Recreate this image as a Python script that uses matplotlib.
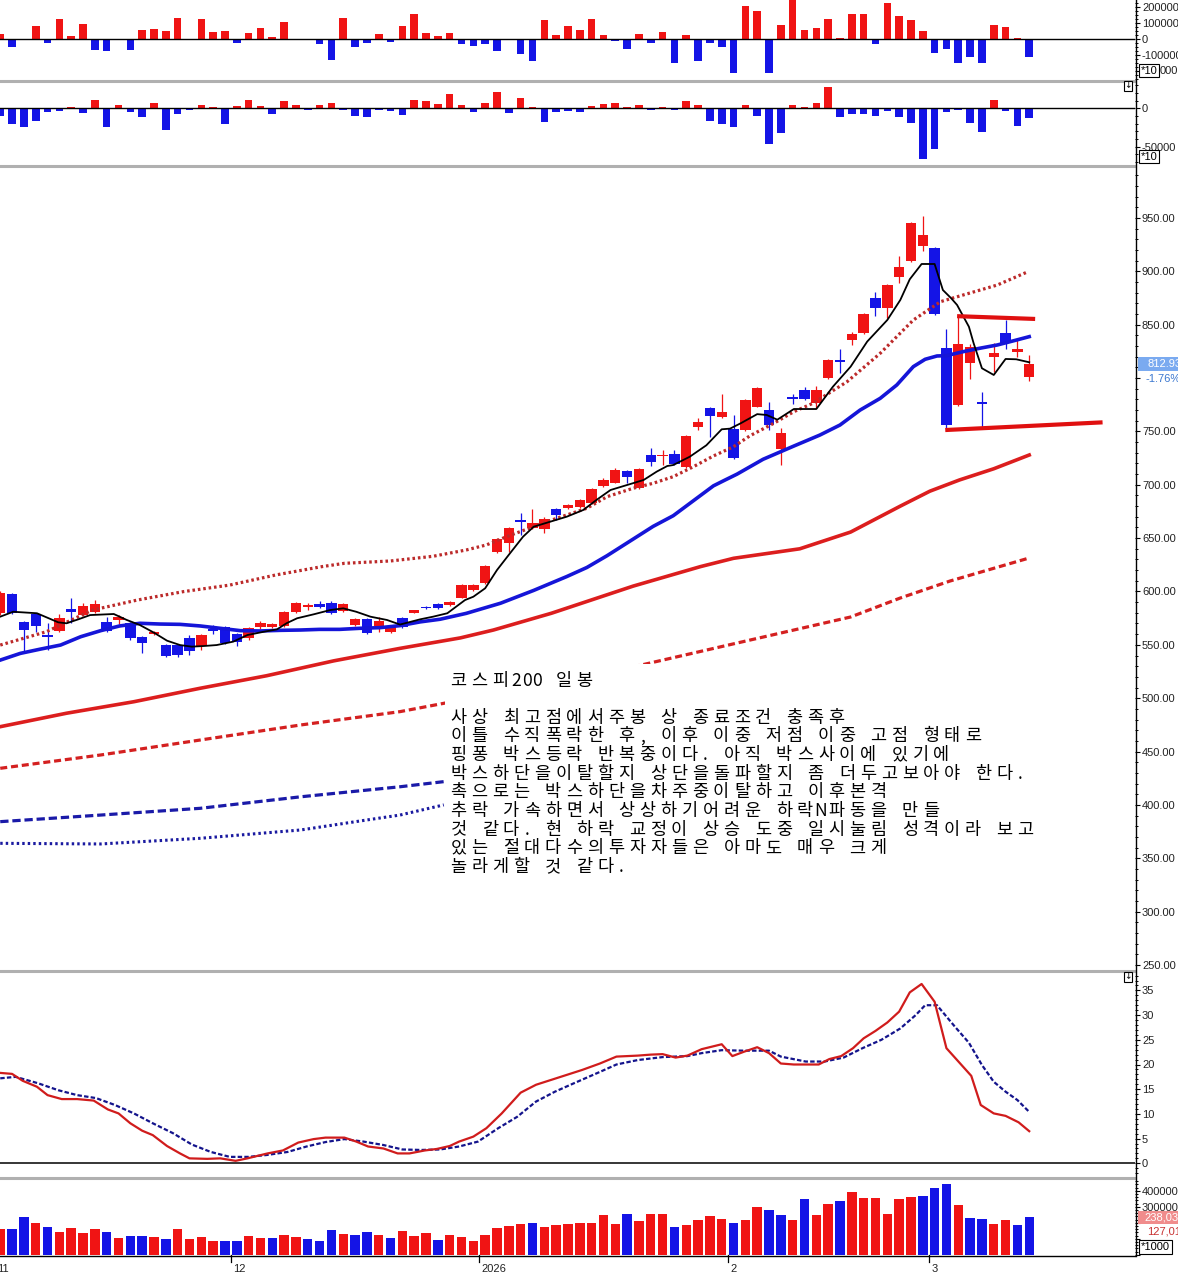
import numpy as np
import matplotlib
matplotlib.use("Agg")
import matplotlib.pyplot as plt
from matplotlib.patches import Rectangle
from matplotlib.lines import Line2D
from matplotlib.ticker import MultipleLocator, FixedLocator, FuncFormatter
from matplotlib.transforms import blended_transform_factory

plt.rcParams['font.family'] = ['Liberation Sans', 'DejaVu Sans']

W, H, DPI = 1178, 1275, 100
RIGHT = 1135.0      # x of the price scale (px)
STEP = 11.83        # px per trading day
RED, BLUE = '#f01414', '#1414e6'

# ---- daily candles, KOSPI200 (bar 0 = 2025-11-03) ----
opens = [580.0, 597.6, 571.1, 578.6, 558.4, 563.3, 583.3, 578.0, 580.5, 571.1,
         573.3, 570.2, 557.0, 560.6, 549.8, 549.5, 556.1, 548.9, 563.5, 566.4,
         560.2, 556.1, 566.4, 566.4, 567.7, 581.0, 585.5, 588.3, 589.5, 581.7,
         569.0, 574.2, 567.7, 562.3, 574.9, 580.1, 585.7, 588.0, 587.3, 594.2,
         601.4, 607.7, 637.3, 645.1, 665.8, 659.8, 658.3, 677.0, 678.0, 678.9,
         682.6, 698.9, 702.0, 712.9, 696.7, 727.9, 726.7, 728.8, 716.9, 753.9,
         771.7, 763.8, 752.0, 751.3, 773.2, 770.0, 733.5, 781.3, 788.8, 776.3,
         799.8, 815.6, 835.7, 841.9, 874.8, 866.0, 895.0, 910.0, 923.9, 921.6,
         827.9, 774.8, 814.4, 776.6, 820.0, 842.0, 824.7, 800.7]
highs = [600.0, 599.0, 572.0, 579.0, 570.2, 578.9, 593.6, 588.9, 592.0, 576.4,
         577.5, 571.0, 558.0, 563.0, 551.0, 551.0, 559.2, 560.0, 568.6, 567.5,
         561.0, 566.5, 572.0, 570.5, 581.5, 590.0, 588.9, 591.5, 591.5, 589.0,
         575.0, 575.0, 576.4, 568.0, 576.0, 583.0, 586.5, 589.0, 591.0, 607.0,
         607.0, 625.0, 650.0, 660.0, 673.8, 677.0, 670.0, 678.0, 682.0, 686.5,
         697.0, 706.5, 716.0, 714.0, 715.5, 734.0, 732.6, 733.0, 746.5, 763.0,
         773.0, 785.0, 765.5, 780.0, 791.5, 778.0, 753.0, 785.5, 792.0, 792.5,
         818.0, 827.0, 843.5, 861.0, 880.5, 888.0, 914.0, 946.0, 951.9, 923.0,
         845.7, 859.0, 832.0, 787.2, 833.2, 854.4, 836.3, 821.6]
lows = [578.0, 579.0, 543.6, 562.0, 545.2, 562.0, 570.2, 577.0, 579.5, 562.0,
        569.5, 555.0, 542.0, 559.0, 538.6, 539.0, 540.5, 545.2, 560.2, 551.0,
        548.9, 555.0, 565.0, 565.5, 567.0, 580.0, 583.0, 584.5, 579.0, 581.0,
        568.0, 560.0, 562.3, 561.5, 566.0, 579.5, 583.5, 584.0, 586.5, 593.5,
        600.5, 607.0, 636.5, 637.3, 652.9, 659.0, 654.5, 667.0, 677.0, 678.0,
        682.0, 697.5, 701.5, 701.4, 696.0, 718.0, 718.5, 719.0, 716.0, 751.0,
        745.1, 763.0, 724.0, 750.5, 772.5, 751.0, 718.5, 776.0, 779.5, 772.0,
        799.0, 804.5, 831.0, 841.0, 858.0, 856.0, 889.0, 909.0, 919.4, 859.0,
        752.9, 774.0, 799.0, 753.9, 806.0, 827.0, 820.0, 797.5]
closes = [598.6, 580.1, 563.9, 567.7, 557.7, 574.9, 581.0, 586.4, 588.0, 563.0,
          576.4, 556.1, 552.0, 561.2, 539.8, 540.3, 544.2, 559.2, 563.0, 552.0,
          553.0, 565.5, 570.8, 569.5, 580.5, 588.9, 586.0, 585.2, 579.6, 588.3,
          574.2, 560.8, 572.3, 567.0, 567.0, 582.4, 584.2, 584.8, 590.4, 606.1,
          606.1, 623.9, 649.0, 659.2, 665.4, 664.4, 667.6, 671.7, 681.0, 685.7,
          696.0, 704.5, 713.8, 707.6, 714.8, 721.6, 727.2, 719.5, 745.7, 759.1,
          764.7, 768.5, 724.8, 779.4, 790.4, 756.0, 748.8, 780.7, 780.4, 788.8,
          816.9, 815.0, 841.3, 860.0, 865.4, 887.2, 904.4, 945.0, 934.0, 860.0,
          756.0, 831.9, 829.4, 776.0, 823.2, 832.6, 827.5, 812.9]

# net buying (two investor groups) and volume
net_a = [33000, -46000, 0, 83000, -21000, 127000, 21000, 96000, -67000, -73000,
         0, -67000, 58000, 65000, 52000, 133000, 0, 127000, 46000, 52000,
         -21000, 40000, 71000, 15000, 108000, 0, 0, -27000, -129000, 133000,
         -46000, -21000, 33000, -15000, 83000, 158000, 40000, 21000, 40000, -27000,
         -40000, -27000, -71000, 0, -94000, -133000, 121000, 29000, 83000, 58000,
         127000, 29000, -8000, -58000, 33000, -21000, 46000, -146000, 29000, -133000,
         -21000, -46000, -213000, 208000, 177000, -208000, 90000, 260000, 58000, 71000,
         127000, 6000, 158000, 158000, -31000, 227000, 146000, 121000, 52000, -88000,
         -63000, -150000, -108000, -150000, 90000, 77000, 8000, -113000]
net_b = [-9600, -20900, -23900, -16100, -4300, -3000, 1700, -5700, 10900, -23900,
         4300, -4300, -10900, 7000, -27800, -7400, -1700, 4300, 1700, -20000,
         3000, 10900, 3000, -7000, 9600, 4300, -1700, 4300, 7000, -1700,
         -9600, -11300, -1700, -3000, -8300, 10900, 9600, 5700, 18700, 4300,
         -4300, 7000, 21300, -5700, 13500, 1700, -17400, -4300, -3000, -4300,
         3000, 5700, 7000, 1700, 4300, -1700, 1700, -1700, 9600, 4300,
         -16100, -20900, -23900, 4300, -9600, -47000, -32600, 4300, 1700, 7000,
         27800, -10900, -7800, -7000, -9600, -3000, -10900, -18700, -66500, -52600,
         -4300, -1700, -18700, -31300, 10900, -3000, -22600, -13000]
volume = [158700, 158700, 233700, 196200, 171200, 140000, 165000, 133700, 158700, 140000,
          102500, 115000, 115000, 108700, 96200, 158700, 96200, 108700, 83700, 83700,
          83700, 115000, 102500, 102500, 121200, 108700, 96200, 83700, 152500, 127500,
          121200, 140000, 121200, 102500, 146200, 115000, 133700, 90000, 121200, 108700,
          83700, 121200, 165000, 177500, 190000, 196200, 171200, 183700, 190000, 196200,
          196200, 248100, 190000, 254400, 208700, 254400, 254400, 173100, 185600, 216900,
          241900, 223100, 198100, 216900, 298100, 279400, 248100, 216900, 348100, 248100,
          316900, 335600, 391900, 354400, 354400, 254400, 348100, 360600, 366900, 416900,
          441900, 310600, 229400, 223100, 191900, 216900, 185600, 238030]
vol_dir = ("rbbrbrrrrb" "rbbrbrrrrb" "brrbrrbbbr" "bbrbrrrbrr" "rrrrrbrrrr"
           "rrrbrrrbrr" "rrbrrbbrbr" "rbrrrrrrbb" "brbbrrbb")

# moving averages / envelopes (bar index, price)
ma5_x = [0, 1.1, 3.1, 4.1, 4.9, 5.6, 6.6, 7.6, 9.6, 10.7, 11.8, 13, 14.1, 15.2, 16.2,
         17.2, 18.3, 19.7, 20.9, 22.3, 23.4, 24.2, 25.1, 26.5, 27.9, 29, 30.1, 31.3,
         32.7, 33.8, 35.5, 36.6, 37.8, 39.3, 40, 41, 42, 43.1, 44.2, 45.1, 46.5, 47.9,
         49.3, 50.4, 51.6, 53, 54.4, 55.5, 56.4, 56.9, 58.3, 59.7, 61, 61.7, 62.6, 64,
         64.8, 65.7, 67.1, 69, 70.4, 71.9, 73.3, 75, 76.1, 76.9, 77.9, 79, 79.7, 80.4,
         80.9, 81.9, 82.3, 83, 84, 85, 85.9, 87]
ma5_y = [576.4, 581, 579.6, 574.9, 571.1, 570.2, 573.9, 577.9, 578.9, 573.3, 568.6,
         561.4, 553.9, 549.8, 548.3, 548.9, 549.8, 553, 559.2, 562.3, 564.5, 570.2,
         574.9, 578.6, 582.6, 584.2, 581, 576.4, 573.3, 569, 573.9, 576.4, 579.6, 592,
         595.1, 603, 620.1, 635.8, 651.3, 660.7, 665.4, 670.1, 676.4, 685.7, 695.1,
         699.8, 704.5, 712.3, 717.6, 718.5, 726.3, 737, 752, 752.6, 757.6, 766.2,
         765.4, 761, 771, 771, 791.9, 810.7, 834.2, 854.4, 873.2, 892.6, 906.9, 906.9,
         882.5, 874.8, 868.5, 848.1, 832.6, 809.2, 802.9, 817.9, 817.6, 814.8]
ma20_x = [0, 1.7, 3.4, 5.1, 6.8, 8.5, 10.1, 11.8, 13.5, 15.2, 16.9, 18.6, 20.3, 22,
          23.7, 25.4, 27, 28.7, 30.4, 32.1, 33.8, 35.5, 37.2, 39.4, 42.3, 45.1, 47.9,
          49.6, 51.3, 53.5, 55.2, 56.9, 58.6, 60.3, 61.2, 62.3, 64.5, 67.1, 69.3, 71,
          72.7, 74.4, 75.8, 77.2, 78.2, 79.2, 80, 81.4, 82.8, 84.3, 85.7, 87]
ma20_y = [535.7, 542, 546, 549.8, 557.6, 563.3, 567.7, 570.2, 569.5, 569.2, 567.7,
          565.5, 563.3, 563, 563.6, 563.9, 564.5, 564.5, 565.5, 566.1, 568, 571.5, 574,
          579.5, 589, 601, 614, 622.5, 633.5, 649, 661, 671, 685, 699, 704, 710, 723.9,
          736.3, 746.6, 756, 770, 781, 793.5, 810.7, 817.6, 820.7, 821, 824.7, 827.9,
          831, 835, 838.8]
upper_x = [0, 3.9, 7.8, 11.6, 15.5, 19.4, 23.3, 27.2, 29.1, 33, 36.6, 39.4, 41.1, 42.8,
           44.5, 46.2, 47.9, 49.6, 51.3, 53.5, 55.2, 56.9, 58.6, 60.3, 62, 63.4, 65.4,
           67.1, 68.7, 71.6, 74.4, 77.2, 79.5, 81.4, 84.3, 86.9]
upper_y = [549.8, 562.3, 582.6, 592, 599.9, 606, 615.5, 623.3, 626.4, 628.6, 633,
           638.9, 643.6, 651.3, 658.3, 665.4, 671.7, 678, 688.8, 696.7, 701.4, 707.6,
           716.9, 727, 735.7, 746, 757.6, 768.5, 776.3, 796.6, 823.2, 854.4, 871.6,
           877.8, 887.2, 899.7]
ma60_x = [0, 5.6, 11.3, 16.9, 22.5, 28.2, 33.8, 38.9, 41.7, 46.6, 53.5, 59.2, 62,
          67.6, 71.9, 76.1, 78.6, 81.1, 84, 87]
ma60_y = [473.3, 485.9, 496.7, 509.3, 521, 535, 546.7, 556.5, 563.9, 579.6, 605, 623.3,
          631.1, 640, 655.7, 680, 694, 704.5, 715, 727.9]
lower_r_x = [0, 8.5, 16.9, 25.4, 33.8, 37.5, 53.1, 63.4, 71.9, 76.1, 80.3, 87]
lower_r_y = [434.3, 446.8, 460.8, 474.9, 487.4, 495.2, 528.3, 554.5, 576.1, 593.9, 609.8, 631.4]
lower_b_x = [0, 8.5, 16.9, 25.4, 33.8, 37.5]
lower_b_y = [384.3, 390.5, 396.8, 407.6, 417, 421.8]
lowest_x = [0, 8.5, 16.9, 25.4, 31, 33.8, 37.5]
lowest_y = [364, 363.4, 368.7, 376.5, 385.9, 390.5, 400]
# hand drawn box (bar index, price)
box_top = ([80.9, 87.5], [858.0, 855.4])
box_bottom = ([79.9, 93.2], [751.3, 758.5])

# oscillator panel
osc_r_x = [0, 1, 1.9, 3.1, 4, 5.2, 6.5, 7.9, 9.1, 10, 11, 12, 12.9, 14.1, 15.2, 16,
           17.5, 18.6, 19.9, 20.9, 22.6, 23.9, 25.2, 26.5, 27.5, 29.1, 30.1, 31.1, 32.4,
           33.6, 34.6, 35.9, 36.9, 38, 38.8, 40, 41.1, 42.4, 44, 45.3, 46.6, 47.9, 49.2,
           50.7, 52.1, 53.9, 55, 56, 57.1, 58.1, 59.3, 61, 61.9, 62.9, 64, 65, 66, 67.1,
           69.2, 70.1, 71.1, 72.1, 73, 74, 75, 76, 76.9, 77.9, 79, 80, 80.9, 82.1, 82.9,
           84, 85, 86.1, 87]
osc_r_y = [18.3, 18.1, 16.7, 15.5, 13.8, 13, 13, 12.7, 10.9, 10.1, 8.1, 6.6, 5.7, 3.5,
           2, 1, 0.9, 1, 0.5, 1, 2, 2.6, 4.2, 4.9, 5.2, 5.2, 4.4, 3.4, 3, 2, 2, 2.6, 2.9,
           3.5, 4.4, 5.4, 7.1, 10.1, 14.3, 15.9, 16.9, 17.9, 18.9, 20.2, 21.6, 21.8, 22,
           22.1, 21.4, 21.8, 23.1, 24.1, 21.7, 22.6, 23.5, 22.3, 20.2, 20, 20, 21.1, 21.7,
           23.3, 25.3, 26.8, 28.5, 30.7, 34.6, 36.3, 32.7, 23.3, 20.9, 17.7, 11.8, 10.1,
           9.6, 8.3, 6.5]
osc_b_x = [0, 1.3, 3.2, 4.9, 6.5, 8.1, 9.7, 11.3, 12.9, 14.6, 16.2, 17.8, 19.4, 21,
           22.6, 24.3, 25.9, 27.5, 29.1, 30.7, 32.4, 34, 35.6, 37.2, 38.8, 40.4, 42.1,
           43.7, 45.3, 46.9, 48.5, 50.7, 52.1, 53.9, 56, 58.1, 59.3, 61, 62.9, 65, 66,
           68.1, 69.7, 71.3, 72.9, 74.5, 76.1, 77.4, 78.2, 79.2, 80.7, 81.9, 83, 84, 85,
           86, 87]
osc_b_y = [17.2, 17.5, 16.2, 14.8, 13.8, 13.2, 11.8, 10.1, 8.1, 6.1, 3.8, 2.3, 1.3, 1.3,
           1.7, 2.3, 3.4, 4.3, 4.9, 4.4, 3.7, 2.8, 2.7, 2.8, 3.4, 4.4, 7.1, 9.4, 12.5,
           14.5, 16.2, 18.5, 20, 20.9, 21.5, 21.7, 22.3, 22.9, 22.8, 22.8, 21.6, 20.6,
           20.6, 21.4, 23.3, 25, 27.3, 30, 32, 32, 27.7, 24.4, 19.9, 16.5, 14.5, 12.8, 10.4]

month_first_bar = [0, 20, 41, 62, 79]
month_labels = ['11', '12', '2026', '2', '3']

note_title = "코스피200 일봉"
note_lines = [
    "사상 최고점에서주봉 상 종료조건 충족후",
    "이틀 수직폭락한 후, 이후 이중 저점 이중 고점 형태로",
    "핑퐁 박스등락 반복중이다. 아직 박스사이에 있기에",
    "박스하단을이탈할지 상단을돌파할지 좀 더두고보아야 한다.",
    "촉으로는 박스하단을차주중이탈하고 이후본격",
    "추락 가속하면서 상상하기어려운 하락N파동을 만들",
    "것 같다. 현 하락 교정이 상승 도중 일시눌림 성격이라 보고",
    "있는 절대다수의투자자들은 아마도 매우 크게",
    "놀라게할 것 같다.",
]

# ---------------------------------------------------------------
fig = plt.figure(figsize=(W / DPI, H / DPI), dpi=DPI)
fig.patch.set_facecolor('white')


def fx(px):
    return px / W


def fy(py):
    return 1 - py / H


def panel(top, bottom, ref_px, ref_val, px_per_unit):
    ax = fig.add_axes([0, fy(bottom), fx(RIGHT), (bottom - top) / H])
    ax.set_xlim(-0.02, RIGHT / STEP)
    ax.set_ylim(ref_val - (bottom - ref_px) / px_per_unit,
                ref_val + (ref_px - top) / px_per_unit)
    for s in ax.spines.values():
        s.set_visible(False)
    ax.set_xticks([])
    ax.yaxis.tick_right()
    ax.tick_params(axis='y', which='major', direction='out', length=3.6, width=0.8,
                   pad=1.4, labelsize=8, labelcolor='#222222')
    ax.tick_params(axis='y', which='minor', direction='out', length=2.0, width=0.7)
    return ax


def fig_text(x, y, s, **kw):
    kw.setdefault('fontsize', 8)
    kw.setdefault('va', 'center')
    return fig.text(fx(x), fy(y), s, **kw)


def int_labels(shown):
    return FuncFormatter(lambda v, p: f"{int(round(v))}"
                         if int(round(v)) in shown else "")


x = np.arange(len(closes))

# --- panel 1: net buying A
ax1 = panel(0, 80, 39.3, 0, 16 / 1e5)
ax1.bar(x, net_a, width=0.64, color=[RED if v > 0 else BLUE for v in net_a], lw=0)
ax1.axhline(0, color='black', lw=1.0)
ax1.yaxis.set_major_locator(FixedLocator([200000, 100000, 0, -100000, -200000]))
ax1.yaxis.set_minor_locator(MultipleLocator(25000))
ax1.yaxis.set_major_formatter(int_labels({200000, 100000, 0, -100000}))

# --- panel 2: net buying B
ax2 = panel(81, 165, 108.3, 0, 38.4 / 5e4)
ax2.bar(x, net_b, width=0.64, color=[RED if v > 0 else BLUE for v in net_b], lw=0)
ax2.axhline(0, color='black', lw=1.0)
ax2.yaxis.set_major_locator(FixedLocator([0, -50000]))
ax2.yaxis.set_minor_locator(MultipleLocator(10000))
ax2.yaxis.set_major_formatter(int_labels({0, -50000}))

# --- panel 3: price
ax3 = panel(166, 970, 218, 950, 1.0671)
o, h, l, c = map(np.array, (opens, highs, lows, closes))
ccol = np.where(c >= o, RED, BLUE)
ax3.vlines(x, l, h, colors=ccol, lw=0.9, zorder=2)
ax3.bar(x, np.maximum(np.abs(c - o), 1.6), bottom=np.minimum(o, c), width=0.88,
        color=ccol, lw=0, zorder=3)

ax3.plot(lowest_x, lowest_y, color='#1a1aa0', lw=2.2, ls=(0, (0.8, 1.0)), zorder=4)
ax3.plot(lower_b_x, lower_b_y, color='#1a1aa8', lw=2.3, ls=(0, (2.6, 1.2)), zorder=4)
ax3.plot(lower_r_x, lower_r_y, color='#d42020', lw=2.3, ls=(0, (2.2, 1.2)), zorder=4)
ax3.plot(ma60_x, ma60_y, color='#dc1e1e', lw=2.6, zorder=4)
ax3.plot(upper_x, upper_y, color='#bc2a2a', lw=2.3, ls=(0, (0.8, 0.9)), zorder=4)
ax3.plot(ma20_x, ma20_y, color='#1515d8', lw=2.6, zorder=4)
ax3.plot(ma5_x, ma5_y, color='black', lw=1.3, zorder=4)
ax3.plot(*box_top, color='#e01010', lw=3.0, solid_capstyle='butt', zorder=4)
ax3.plot(*box_bottom, color='#e01010', lw=3.0, solid_capstyle='butt', zorder=4)

ax3.yaxis.set_major_locator(MultipleLocator(50))
ax3.yaxis.set_minor_locator(MultipleLocator(10))
# 800.00 sits under the last-price tag, so it is not printed
ax3.yaxis.set_major_formatter(FuncFormatter(
    lambda v, p: "" if abs(v - 800) < 1 else f"{v:.2f}"))

# note box
ax3.add_patch(Rectangle((fx(445), fy(885)), fx(1052 - 445), 221 / H,
                        transform=fig.transFigure, facecolor='white',
                        edgecolor='none', zorder=6))


def write_line(s, x0, yc):
    cx = x0
    for ch in s:
        wide = 0xAC00 <= ord(ch) <= 0xD7A3
        cell = 21.0 if wide else 10.5
        if ch != ' ':
            ax3.text(fx(cx + cell / 2), fy(yc), ch, transform=fig.transFigure,
                     ha='center', va='center', fontsize=12.6, color='black',
                     family=['Noto Sans CJK KR', 'DejaVu Sans'], zorder=7)
        cx += cell


write_line(note_title, 448, 681)
for i, s in enumerate(note_lines):
    write_line(s, 448, 717.5 + i * 18.7)

# --- panel 4: oscillator
ax4 = panel(971, 1177, 1163.3, 0, 4.94)
ax4.axhline(0, color='black', lw=1.1)
ax4.plot(osc_b_x, osc_b_y, color='#14148c', lw=1.6, ls=(0, (2.0, 1.0)))
ax4.plot(osc_r_x, osc_r_y, color='#d01c1c', lw=1.6)
ax4.yaxis.set_major_locator(MultipleLocator(5))
ax4.yaxis.set_minor_locator(MultipleLocator(1))
ax4.yaxis.set_major_formatter(int_labels(set(range(0, 40, 5))))

# --- panel 5: volume
ax5 = panel(1179, 1255, 1254.7, 0, 16 / 1e5)
ax5.bar(x, volume, width=0.8, color=[RED if d == 'r' else BLUE for d in vol_dir], lw=0)
ax5.yaxis.set_major_locator(FixedLocator([400000, 300000, 200000, 100000, 0]))
ax5.yaxis.set_minor_locator(MultipleLocator(20000))
ax5.yaxis.set_major_formatter(int_labels({400000, 300000}))

# month ticks below volume
tr = blended_transform_factory(ax5.transData, ax5.transAxes)
for b, lab in zip(month_first_bar, month_labels):
    ax5.plot([b - 0.5, b - 0.5], [0, -0.09], color='black', lw=0.9,
             transform=tr, clip_on=False)
    ax5.text(b - 0.5 + 0.2, -0.19, lab, transform=tr, ha='left', va='center',
             fontsize=8, color='#222222', clip_on=False)

# frame lines
for yy in (80.5, 165.5, 970.5, 1177.8):
    fig.add_artist(Line2D([0, fx(RIGHT)], [fy(yy)] * 2, color='#b0b0b0', lw=2.2))
fig.add_artist(Line2D([0, fx(RIGHT)], [fy(1255.5)] * 2, color='black', lw=1.0))
fig.add_artist(Line2D([fx(RIGHT + 0.5)] * 2, [fy(1256), 1], color='black', lw=1.0))

# scale badges and last-value labels
box = dict(boxstyle='square,pad=0.15', fc='white', ec='black', lw=0.8)
fig_text(1141, 70.7, '*10', bbox=box)
fig_text(1160, 71.2, '000', color='#222222')
fig_text(1141, 156.7, '*10', bbox=box)
fig_text(1141, 1247, '*1000', bbox=box)
icon = dict(boxstyle='square,pad=0.05', fc='white', ec='black', lw=0.8)
for yy in (86, 977):
    fig_text(1128, yy, '\u21a7', fontsize=6.5, ha='center', family='DejaVu Sans',
             bbox=icon)

fig.add_artist(Rectangle((fx(1138), fy(371)), fx(45), 13.5 / H,
                         transform=fig.transFigure, fc='#7aaaf0', ec='none'))
fig_text(1148, 364.2, '812.93', color='white')
fig_text(1146, 378.5, '-1.76%', color='#3c78d0')

fig.add_artist(Rectangle((fx(1138), fy(1224)), fx(45), 13 / H,
                         transform=fig.transFigure, fc='#f08c8c', ec='none'))
fig_text(1144, 1217.5, '238,03', color='white')
fig_text(1147, 1231, '127,01', color='#c83232')

fig.savefig('out.png', dpi=DPI, facecolor='white')
